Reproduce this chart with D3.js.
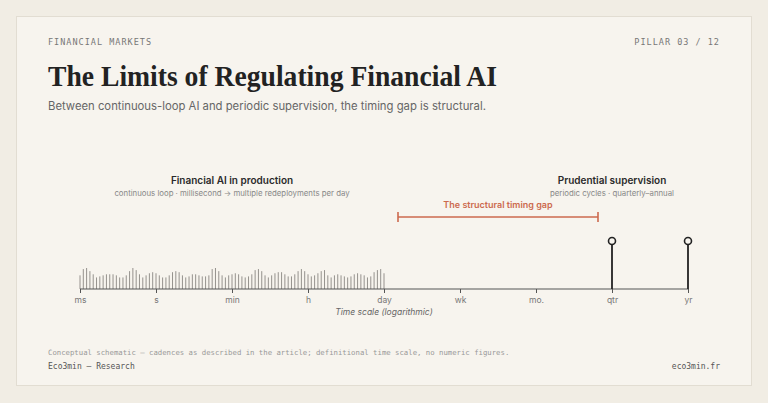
<!DOCTYPE html>
<html><head><meta charset="utf-8">
<script src="https://cdn.jsdelivr.net/npm/d3@7"></script>
<style>body{margin:0;background:#f1ede4}</style>
</head><body>
<svg id="chart" width="768" height="403"></svg>
<script>
const ticks = ["ms", "s", "min", "h", "day", "wk", "mo.", "qtr", "yr"];
// AI activity bar heights (px-ish units)
const aiBars = [13,19,20,17,14,11,12,13,14,14,14,13,11,11,13,17,20,18,14,11,13,15,16,15,13,11,11,13,16,17,16,13,11,12,14,14,13,12,12,13,19,20,17,13,11,13,14,15,14,12,11,12,14,18,19,17,13,11,13,15,16,16,14,12,12,14,17,19,17,14,12,13,15,17,18,13,11,13,14,13,12,11,12,14,15,14,13,11,12,16,18,19,15];
const supervision = ["qtr", "yr"];
const gap = ["day", "qtr"];

const svg = d3.select("#chart");
svg.append("rect").attr("x",0).attr("y",0).attr("width",768).attr("height",403).attr("fill","#f1ede4");
svg.append("rect").attr("x",16.5).attr("y",16.5).attr("width",735).attr("height",369)
  .attr("fill","#f7f4ee").attr("stroke","#e2ddd2");

const mono = "'DejaVu Sans Mono', monospace", sans = "Inter, 'Noto Sans', sans-serif";
svg.append("text").attr("x",48).attr("y",45).text("FINANCIAL MARKETS")
  .attr("font-family",mono).attr("font-size",8.5).attr("letter-spacing",1).attr("fill","#777");
svg.append("text").attr("x",720).attr("y",45).attr("text-anchor","end").text("PILLAR 03 / 12")
  .attr("font-family",mono).attr("font-size",8.5).attr("letter-spacing",1).attr("fill","#777");
svg.append("text").attr("x",48).attr("y",86).text("The Limits of Regulating Financial AI")
  .attr("font-family","'Liberation Serif', serif").attr("font-size",30).attr("font-weight",600)
  .attr("textLength",449).attr("lengthAdjust","spacingAndGlyphs").attr("fill","#222");
svg.append("text").attr("x",48).attr("y",110).text("Between continuous-loop AI and periodic supervision, the timing gap is structural.")
  .attr("font-family",sans).attr("font-size",11.3).attr("fill","#666");

const x = d3.scalePoint().domain(ticks).range([80, 688]);
const y0 = 289;
const h = d3.scaleLinear().domain([0, 20]).range([0, 21]);

const bx = d3.scaleLinear().domain([0, aiBars.length - 1]).range([x("ms"), x("day")]);
svg.append("g").selectAll("line").data(aiBars).join("line")
  .attr("x1",(d,i)=>bx(i)).attr("x2",(d,i)=>bx(i))
  .attr("y1",y0).attr("y2",d=>y0-h(d))
  .attr("stroke","#8a8782").attr("stroke-width",0.9);

const axis = svg.append("g").attr("transform",`translate(0,${y0})`)
  .call(d3.axisBottom(x).tickSize(4).tickPadding(4));
axis.select(".domain").attr("stroke","#555").attr("stroke-width",1.2).attr("d","M80,0H688");
axis.selectAll(".tick line").attr("stroke","#555");
axis.selectAll("text").attr("font-family",sans).attr("font-size",8.5).attr("fill","#777");
svg.append("text").attr("x",384).attr("y",315).attr("text-anchor","middle").text("Time scale (logarithmic)")
  .attr("font-family",sans).attr("font-size",8.5).attr("font-style","italic").attr("fill","#666");

const stems = svg.append("g").selectAll("g").data(supervision).join("g");
stems.append("line").attr("x1",d=>x(d)).attr("x2",d=>x(d)).attr("y1",y0).attr("y2",245)
  .attr("stroke","#222").attr("stroke-width",1.8);
stems.append("circle").attr("cx",d=>x(d)).attr("cy",241).attr("r",3.5)
  .attr("fill","#f7f4ee").attr("stroke","#222").attr("stroke-width",1.6);

const gx0 = x(gap[0]) + 14, gx1 = x(gap[1]) - 14, gy = 217;
const red = "#cc6a4e";
svg.append("line").attr("x1",gx0).attr("x2",gx1).attr("y1",gy).attr("y2",gy).attr("stroke",red).attr("stroke-width",1.6);
[gx0,gx1].forEach(v=>svg.append("line").attr("x1",v).attr("x2",v).attr("y1",gy-5).attr("y2",gy+5).attr("stroke",red).attr("stroke-width",1.6));
svg.append("text").attr("x",(gx0+gx1)/2).attr("y",208).attr("text-anchor","middle").text("The structural timing gap")
  .attr("font-family",sans).attr("font-size",9).attr("font-weight",600).attr("fill",red);

svg.append("text").attr("x",232).attr("y",184).attr("text-anchor","middle").text("Financial AI in production")
  .attr("font-family",sans).attr("font-size",10).attr("font-weight",600).attr("fill","#2a2a2a");
svg.append("text").attr("x",232).attr("y",196).attr("text-anchor","middle").text("continuous loop · millisecond → multiple redeployments per day")
  .attr("font-family",sans).attr("font-size",7.8).attr("fill","#888");
svg.append("text").attr("x",612).attr("y",184).attr("text-anchor","middle").text("Prudential supervision")
  .attr("font-family",sans).attr("font-size",10).attr("font-weight",600).attr("fill","#2a2a2a");
svg.append("text").attr("x",612).attr("y",196).attr("text-anchor","middle").text("periodic cycles · quarterly–annual")
  .attr("font-family",sans).attr("font-size",7.8).attr("fill","#888");

svg.append("text").attr("x",48).attr("y",355).text("Conceptual schematic — cadences as described in the article; definitional time scale, no numeric figures.")
  .attr("font-family",mono).attr("font-size",7.3).attr("fill","#999");
svg.append("text").attr("x",48).attr("y",369).text("Eco3min — Research")
  .attr("font-family",mono).attr("font-size",8).attr("fill","#555");
svg.append("text").attr("x",720).attr("y",369).attr("text-anchor","end").text("eco3min.fr")
  .attr("font-family",mono).attr("font-size",8).attr("fill","#555");
</script>
</body></html>
